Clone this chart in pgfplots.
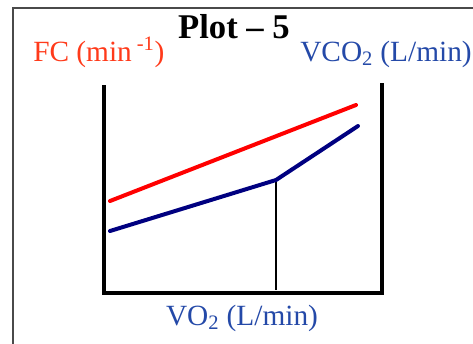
\documentclass[border=0pt]{standalone}
\usepackage{pgfplots}
\pgfplotsset{compat=1.18}
\usepackage{fontspec}
\setmainfont{Liberation Serif}
\definecolor{lred}{HTML}{FF0000}
\definecolor{tred}{HTML}{FF3A1A}
\definecolor{lblue}{HTML}{000080}
\definecolor{tblue}{HTML}{2449A8}
\definecolor{frame}{HTML}{4A4A4A}
\begin{document}
\begin{tikzpicture}
\begin{axis}[name=ax,
  width=354.75pt, height=257.25pt, scale only axis,
  xmin=0, xmax=473, ymin=0, ymax=343, y dir=reverse,
  hide axis, clip=true,
]
% outer frame (cropped at right and bottom)
\addplot[frame, line width=1.5pt, line cap=rect] coordinates {(13,343) (13,8) (473,8)};
% axes lines
\addplot[black, line width=2.4pt, line join=miter] coordinates {(104,85) (104,293) (382,293) (382,83)};
% threshold marker
\addplot[black, line width=0.9pt] coordinates {(276,181) (276,290)};
% FC
\addplot[lred, line width=3pt, line cap=round] coordinates {(110,201) (356,105)};
% VCO2
\addplot[lblue, line width=3pt, line cap=round, line join=round] coordinates {(110,231) (276,180) (358,126)};
\node[font=\bfseries\fontsize{26}{28}\selectfont, anchor=base, inner sep=0pt] at (axis cs:234,38) {Plot -- 5};
\node[text=tred, font=\fontsize{22}{24}\selectfont, anchor=base west, inner sep=0pt] at (axis cs:33,61) {FC (min\,\textsuperscript{-1})};
\node[text=tblue, font=\fontsize{22}{24}\selectfont, anchor=base west, inner sep=0pt] at (axis cs:300,61) {VCO\textsubscript{2} (L/min)};
\node[text=tblue, font=\fontsize{22}{24}\selectfont, anchor=base, inner sep=0pt] at (axis cs:242,325) {VO\textsubscript{2} (L/min)};
\end{axis}
\pgfresetboundingbox
\path[use as bounding box] (ax.south west) rectangle (ax.north east);
\end{tikzpicture}
\end{document}
